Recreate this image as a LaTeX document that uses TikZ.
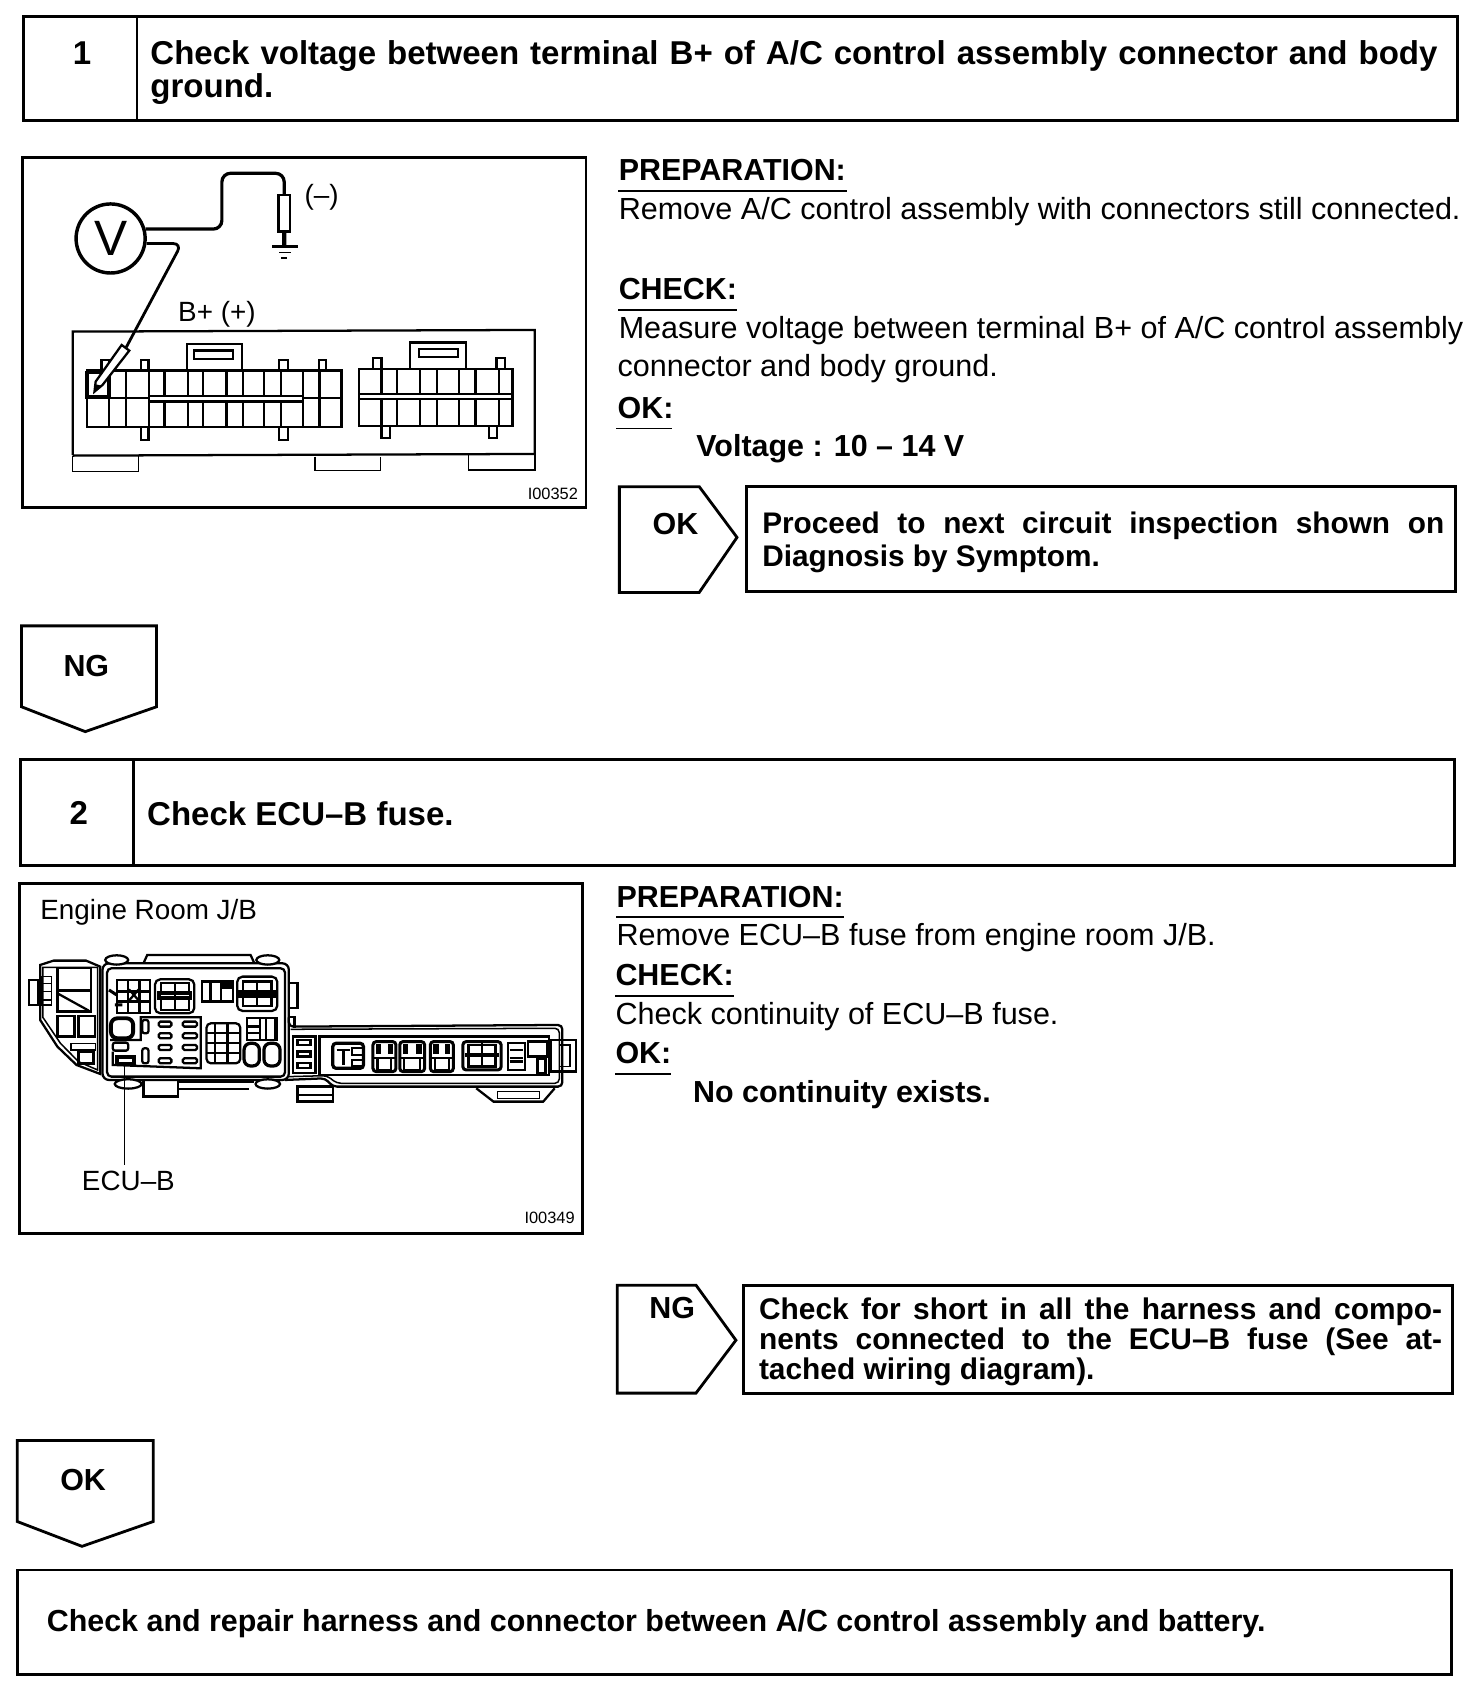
\documentclass[tikz,border=0pt]{standalone}
\usepackage{fontspec}
\setmainfont{Liberation Sans}
\newcommand{\bodyfs}{\fontsize{14.15}{18}\selectfont}
\newcommand{\boldfs}{\fontsize{14.1}{15.5}\selectfont\bfseries}
\newcommand{\bigfs}{\fontsize{15.3}{15.5}\selectfont\bfseries}
\newcommand{\okfs}{\fontsize{13.8}{15.5}\selectfont\bfseries}
\newcommand{\ngfs}{\fontsize{13.85}{14}\selectfont\bfseries}
\tikzset{
  box/.style={draw=black,line width=1.3pt},
  frame/.style={draw=black,line width=1.3pt},
  thin part/.style={draw=black,line width=.7pt},
  part/.style={draw=black,line width=1.05pt},
  wire/.style={draw=black,line width=1.5pt,rounded corners=4pt},
  txt/.style={anchor=west,inner sep=0pt,font=\bodyfs},
  btxt/.style={anchor=west,inner sep=0pt,font=\boldfs},
  bigtxt/.style={anchor=west,inner sep=0pt,font=\bigfs},
  ctr/.style={anchor=center,inner sep=0pt,font=\boldfs},
  head/.style={anchor=west,inner sep=0pt,font=\boldfs},
  uline/.style={draw=black,line width=.8pt},
  para/.style={anchor=north west,inner sep=0pt,align=justify},
  small/.style={anchor=east,inner sep=0pt,font=\fontsize{7.6}{9}\selectfont},
  label/.style={inner sep=0pt,font=\fontsize{12.9}{14}\selectfont},
}
\begin{document}
\begin{tikzpicture}[x=.5pt,y=-.5pt]
\useasboundingbox (0,0) rectangle (1364,1568);
\fill[white] (0,0) rectangle (1364,1568);

% --- step 1 header
\draw[box] (22,15) rectangle (1351,112);
\draw[box] (127,15) -- (127,112);
\node[ctr,font=\bigfs] (n1) at (76,49) {1};
\node[para,text width=610pt,align=left,font=\bigfs] (t1) at (139,37) {Check voltage between terminal B+ of A/C control assembly connector and body\\ground.};

% --- figure 1
\draw[frame] (21,146) rectangle (543,470);
\node[draw=black,line width=1.6pt,circle,minimum size=32pt,inner sep=0pt,font=\fontsize{23}{25}\selectfont] (V) at (102.5,221) {V};
\node[label] (minus) at (298,183) {(--)};
\node[label] (bplus) at (201,291) {B+ (+)};
\node[small] (id1) at (536,458) {I00352};
\begin{scope}[shift={(0,129.7)},xscale=.3545,yscale=.3089]
  % black probe
  \coordinate (p1a) at (743,165);
  \draw[part] (728,165) rectangle (758,275);
  \coordinate (gnd) at (743,320);
  \draw[line width=2pt] (743,275) -- (gnd);
  \draw[line width=1.5pt] (712,320) -- (778,320);
  \draw[line width=.8pt] (730,338) -- (760,338);
  \draw[line width=.8pt] (735,355) -- (750,355);
  % connector body
  \draw[part] (190,945) -- (190,575) -- (1398,570) -- (1398,945);
  \draw[part] (190,947) -- (1398,942);
  \draw[thin part] (190,947) -- (190,995) -- (362,995) -- (362,947);
  \draw[thin part] (823,950) -- (823,992) -- (995,992) -- (995,950);
  \draw[thin part] (1225,945) -- (1225,990) -- (1398,990) -- (1398,945);
  % left connector
  \foreach \a/\b in {265/285,368/388,730/752,833/853} \draw[part] (\a,692) -- (\a,660) -- (\b,660) -- (\b,692);
  \foreach \a/\b in {368/388,730/752} \draw[part] (\a,862) -- (\a,900) -- (\b,900) -- (\b,862);
  \draw[part] (488,692) -- (488,612) -- (633,612) -- (633,692);
  \draw[part] (507,632) rectangle (610,658);
  \draw[part] (228,692) rectangle (893,862);
  \foreach \x in {285,330,390,430,492,530,592,635,690,735,792,835} \draw[part] (\x,692) -- (\x,862);
  \fill[white] (392,768) rectangle (790,785);
  \draw[part] (228,775) -- (390,775);
  \draw[part] (795,775) -- (893,775);
  \draw[part] (390,768) -- (795,768);
  \draw[part] (390,785) -- (795,785);
  \draw[line width=1.7pt] (228,698) rectangle (285,772);
  % red probe
  \coordinate (p2a) at (330,622);
  \draw[part,fill=white] (318,615) -- (338,632) -- (268,735) -- (247,755) -- (250,725) -- cycle;
  \fill (247,755) -- (250,733) -- (268,738) -- cycle;
  % right connector
  \foreach \a/\b in {975/997,1298/1320} \draw[part] (\a,688) -- (\a,655) -- (\b,655) -- (\b,688);
  \foreach \a/\b in {997/1020,1278/1300} \draw[part] (\a,858) -- (\a,895) -- (\b,895) -- (\b,858);
  \draw[part] (1072,688) -- (1072,608) -- (1218,608) -- (1218,688);
  \draw[part] (1095,628) rectangle (1198,652);
  \draw[part] (938,688) rectangle (1340,858);
  \draw[part] (938,763) -- (1340,763);
  \draw[part] (938,778) -- (1340,778);
  \foreach \x in {997,1037,1097,1143,1200,1243,1305} {
    \draw[part] (\x,688) -- (\x,763);
    \draw[part] (\x,778) -- (\x,858);
  }
  \coordinate (w1a) at (580,268);
  \coordinate (w1b) at (580,100);
  \coordinate (w1c) at (743,100);
  \coordinate (w2a) at (475,310);
\end{scope}
\draw[wire] (V.15) -- (V.15 -| w1a) -- (w1b) -- (w1c) -- (p1a);
\draw[wire,line width=1.3pt] (V.-8) -- (V.-8 -| w2a) -- (p2a);

% --- step 1 text
\node[head] (h11) at (573,158) {PREPARATION:};
\draw[uline] (573,177) -- (785,177);
\node[txt] (b11) at (573,196) {Remove A/C control assembly with connectors still connected.};
\node[head] (h12) at (573,268) {CHECK:};
\draw[uline] (573,287) -- (683,287);
\node[txt] (b12) at (573,306) {Measure voltage between terminal B+ of A/C control assembly};
\node[txt] (b13) at (572,342) {connector and body ground.};
\node[head] (h13) at (572,378) {OK:};
\draw[uline] (571,397) -- (623,397);
\node[btxt] (b14) at (645,416) {Voltage : 10 -- 14 V};

% --- OK branch 1
\draw[box] (574,451) -- (648,451) -- (683,498) -- (648,549) -- (574,549) -- cycle;
\node[ctr] (ok1) at (626,486) {OK};
\draw[box] (692,451) rectangle (1349,548);
\node[para,text width=316pt,font=\okfs] (okt1) at (706,474) {Proceed to next circuit inspection shown on\linebreak Diagnosis by Symptom.};

% --- NG arrow 1
\draw[box] (20,580) -- (145,580) -- (145,655) -- (79,678) -- (20,655) -- cycle;
\node[ctr] (ng1) at (80,617) {NG};

% --- step 2 header
\draw[box] (19,704) rectangle (1348,802);
\draw[box] (124,704) -- (124,802);
\node[ctr,font=\bigfs] (n2) at (73,753) {2};
\node[bigtxt] (t2) at (136,754) {Check ECU--B fuse.};

% --- figure 2
\draw[frame] (18,819) rectangle (540,1143);
\node[anchor=west,label] (jb) at (37,845) {Engine Room J/B};
\node[label] (ecub) at (119,1094) {ECU--B};
\node[small] (id2) at (533,1129) {I00349};
\begin{scope}[shift={(0,861.8)},xscale=.3545,yscale=.3089]
  % left block
  \draw[part] (105,105) -- (140,92) -- (225,92) -- (262,110) -- (262,432) -- (200,405) -- (150,350) -- (105,270) -- cycle;
  \draw[thin part] (112,112) -- (255,112) -- (255,420) -- (205,395) -- (158,340) -- (112,262) -- cycle;
  \draw[part] (75,150) rectangle (100,225);
  \draw[thin part] (110,140) rectangle (135,225);
  \foreach \y in {160,185,210} \draw[thin part] (110,\y) -- (135,\y);
  \draw[part] (150,115) rectangle (238,245);
  \draw[part] (150,182) -- (238,182);
  \draw[part] (150,190) -- (232,242);
  \draw[part] (150,258) rectangle (195,320);
  \draw[part] (205,258) rectangle (248,320);
  \draw[thin part] (185,340) rectangle (250,360);
  \draw[line width=1.4pt] (205,365) rectangle (245,400);
  % centre block
  \draw[part,rounded corners=3pt] (268,100) rectangle (755,450);
  \draw[part,rounded corners=2pt] (280,115) rectangle (745,440);
  \draw[part] (375,100) -- (385,75) -- (655,75) -- (665,100);
  \draw[part,fill=white] (305,90) ellipse (30 and 14);
  \draw[part,fill=white] (700,90) ellipse (30 and 14);
  \draw[part,fill=white] (335,462) ellipse (35 and 14);
  \draw[part,fill=white] (700,462) ellipse (32 and 14);
  \draw[part] (375,450) rectangle (465,500);
  \draw[part] (465,455) -- (665,455);
  \draw[part] (465,478) -- (650,478);
  \draw[part] (755,160) rectangle (778,235);
  % relay A
  \draw[part] (305,150) rectangle (392,250);
  \foreach \y in {185,215} \draw[part] (305,\y) -- (392,\y);
  \foreach \x in {335,365} \draw[part] (\x,150) -- (\x,250);
  \draw[part] (337,178) -- (363,212) (363,178) -- (337,212);
  \draw[line width=1.4pt] (285,180) -- (305,195) (300,225) -- (320,225);
  % relay B
  \draw[part,rounded corners=2.5pt] (405,148) rectangle (508,250);
  \draw[part] (420,160) rectangle (495,240);
  \draw[line width=1.8pt,fill=white] (416,190) rectangle (498,205);
  \draw[part] (458,160) -- (458,240);
  % block C
  \draw[part] (528,155) rectangle (610,215);
  \foreach \x in {550,578} \draw[part] (\x,155) -- (\x,215);
  \fill (580,155) rectangle (608,178);
  % relay D
  \draw[part,rounded corners=2.5pt] (620,140) rectangle (725,243);
  \draw[part] (635,155) rectangle (710,228);
  \draw[line width=1.8pt,fill=white] (628,185) rectangle (718,197);
  \draw[part] (672,155) -- (672,228);
  % fuse panel
  \draw[part] (288,330) -- (368,330) -- (368,262) -- (525,262) -- (525,415) -- (295,405) -- (295,365);
  \foreach \y in {275,310,345,385} {
    \draw[part,rounded corners=.7pt] (415,\y) rectangle (448,\y+15);
    \draw[part,rounded corners=.7pt] (478,\y) rectangle (515,\y+15);
  }
  \draw[part,rounded corners=1pt] (372,270) rectangle (388,310);
  \draw[part,rounded corners=1pt] (372,355) rectangle (388,400);
  \draw[line width=1.8pt,rounded corners=3pt] (290,265) rectangle (348,325);
  \draw[part,rounded corners=1pt] (295,338) rectangle (335,362);
  \draw[line width=1.8pt] (305,382) rectangle (350,402);
  \coordinate (fuse) at (325,400);
  \coordinate (ecutop) at (325,705);
  % block E
  \draw[part,rounded corners=2pt] (540,280) rectangle (628,400);
  \foreach \x in {562,595} \draw[part] (\x,280) -- (\x,400);
  \foreach \y in {310,340,370} \draw[part] (540,\y) -- (628,\y);
  % block F
  \draw[part] (645,265) rectangle (725,330);
  \foreach \x in {680,695,720} \draw[part] (\x,265) -- (\x,330);
  \foreach \y in {290,310} \draw[part] (645,\y) -- (680,\y);
  \draw[line width=1.5pt,rounded corners=3pt] (638,340) rectangle (678,408);
  \draw[line width=1.5pt,rounded corners=3pt] (690,340) rectangle (732,408);
  % right strip
  \draw[part,rounded corners=2pt] (755,262) -- (755,290) -- (1470,285) -- (1470,470) -- (870,470) -- (850,445) -- (745,450);
  \draw[thin part,rounded corners=2pt] (760,298) -- (1462,295) -- (1462,460) -- (880,460) -- (855,437) -- (755,440);
  \draw[part] (755,262) -- (770,262) -- (770,295);
  \draw[part] (778,470) rectangle (870,515);
  \draw[part] (778,495) -- (870,495);
  \draw[part] (1245,475) -- (1290,515) -- (1420,515) -- (1450,475);
  \draw[thin part] (1300,485) rectangle (1410,505);
  \draw[part] (1440,330) rectangle (1505,425);
  \draw[thin part] (1460,345) -- (1490,345) -- (1490,410) -- (1460,410);
  \draw[part] (835,320) rectangle (1435,435);
  \draw[part] (765,320) rectangle (825,430);
  \foreach \y in {330,365,400} \draw[part] (778,\y) rectangle (812,\y+15);
  \draw[line width=1.5pt,rounded corners=1.5pt] (870,340) rectangle (950,415);
  \draw[part] (880,360) -- (915,360) (898,360) -- (898,405);
  \foreach \y in {355,390} \draw[part] (920,\y) rectangle (948,\y+20);
  \foreach \a/\b in {975/1035,1045/1110,1125/1185} {
    \draw[line width=1.4pt,rounded corners=1.5pt] (\a,335) rectangle (\b,425);
    \fill (\a+8,342) rectangle (\a+22,372);
    \fill (\b-22,342) rectangle (\b-8,372);
    \draw[part] (\a,385) -- (\b,385);
    \draw[part] (\a+12,385) rectangle (\b-12,420);
  }
  \draw[line width=1.4pt,rounded corners=1.5pt] (1210,335) rectangle (1310,420);
  \draw[line width=1.8pt] (1215,375) -- (1305,375);
  \draw[part] (1260,340) -- (1260,415);
  \draw[part] (1225,345) rectangle (1295,410);
  \draw[part] (1328,340) rectangle (1372,420);
  \foreach \y in {360,385,395} \draw[part] (1332,\y) -- (1368,\y);
  \draw[part] (1380,335) rectangle (1430,380);
  \draw[line width=1.4pt] (1405,385) rectangle (1425,430);
\end{scope}
\draw[thin part] (fuse) -- (ecutop);

% --- step 2 text
\node[head] (h21) at (571,831) {PREPARATION:};
\draw[uline] (571,850) -- (782,850);
\node[txt] (b21) at (571,869) {Remove ECU--B fuse from engine room J/B.};
\node[head] (h22) at (570,904) {CHECK:};
\draw[uline] (570,923) -- (680,923);
\node[txt] (b22) at (570,942) {Check continuity of ECU--B fuse.};
\node[head] (h23) at (570,976) {OK:};
\draw[uline] (570,995) -- (622,995);
\node[btxt] (b23) at (642,1014) {No continuity exists.};

% --- NG branch
\draw[box] (572,1191) -- (645,1191) -- (682,1242) -- (645,1291) -- (572,1291) -- cycle;
\node[ctr] (ng2) at (623,1212) {NG};
\draw[box] (689,1191) rectangle (1346,1291);
\node[para,text width=316.5pt,font=\ngfs] (ngt) at (703,1202) {Check for short in all the harness and compo-\linebreak nents connected to the ECU--B fuse (See at-\linebreak tached wiring diagram).};

% --- OK arrow 2
\draw[box] (16,1335) -- (142,1335) -- (142,1410) -- (76,1433) -- (16,1410) -- cycle;
\node[ctr] (ok2) at (77,1372) {OK};

% --- final box
\draw[box] (16,1455) rectangle (1345,1552);
\node[btxt] (t3) at (43,1505) {Check and repair harness and connector between A/C control assembly and battery.};
\end{tikzpicture}
\end{document}
